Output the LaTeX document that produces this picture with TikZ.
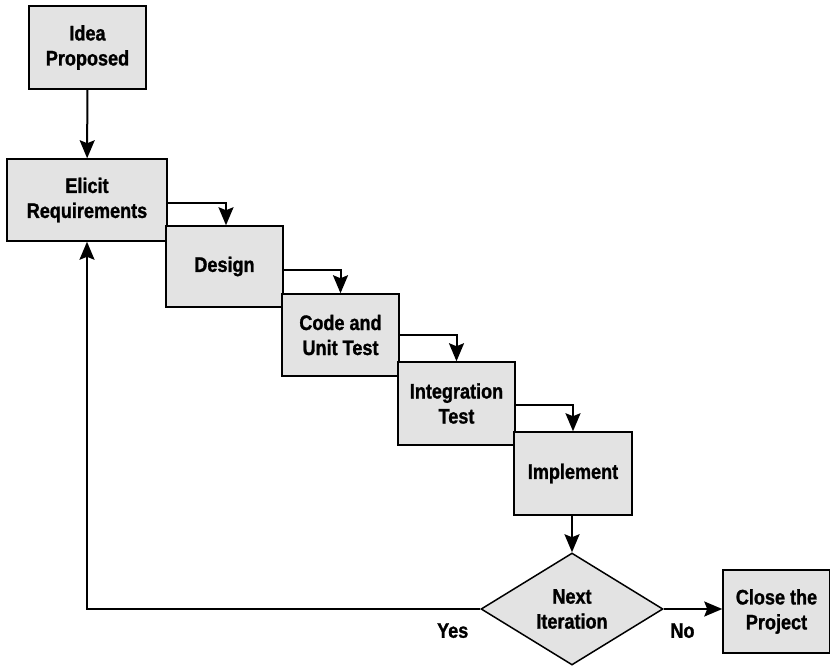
\documentclass[tikz,border=0pt]{standalone}
\usepackage{fontspec}
\setmainfont{Liberation Sans}[FakeStretch=0.86, BoldFeatures={FakeBold=1.2}]
\usepackage{tikz}
\usetikzlibrary{arrows.meta,positioning,shapes.geometric}
\definecolor{boxgray}{RGB}{227,227,227}

\begin{document}
\begin{tikzpicture}[
    x=1pt, y=-1pt,
    box/.style={draw, fill=boxgray, line width=1.5pt, minimum height=82pt, minimum width=117pt, align=center, inner sep=2pt, font=\fontsize{21}{25}\selectfont\bfseries},
    decision/.style={box, diamond, aspect=1.625, minimum width=182pt, minimum height=112pt, inner sep=0pt},
    lbl/.style={font=\fontsize{21}{25}\selectfont\bfseries},
    arr/.style={-{Stealth[length=18pt, width=15pt, inset=3pt]}, line width=2pt},
]
\useasboundingbox (0,0) rectangle (830,666);

% Start
\node[box, minimum height=83pt] (idea) at (87.5,47.5) {Idea\\Proposed};

% Waterfall stages
\node[box, minimum width=160pt] (elicit) at (87,200) {Elicit\\Requirements};
\node[box, minimum height=81pt] (design) at (224.5,266.5) {Design};
\node[box] (code) at (340.5,335) {Code and\\Unit Test};
\node[box, minimum height=83pt] (integ) at (456.5,403.5) {Integration\\Test};
\node[box, minimum width=118pt, minimum height=83pt] (impl) at (573,473.5) {Implement};

% Decision
\node[decision] (next) at (572,609) {Next\\Iteration};

% End
\node[box, minimum width=107pt, minimum height=83pt] (close) at (776.5,611.5) {Close the\\Project};

% Arrows
\draw[arr] (idea) -- (elicit);
\draw[arr] ([yshift=-3pt]elicit.east) -| ([xshift=1.5pt]design.north);
\draw[arr] ([yshift=-3.5pt]design.east) -| (code.north);
\draw[arr] (code.east) -| (integ.north);
\draw[arr] ([yshift=-1.5pt]integ.east) -| (impl.north);
\draw[arr] ([xshift=-1pt]impl.south) -- (next.north);
\draw[arr] (next.east) -- (close.west |- next.east) node[lbl, pos=0.32, below=10pt] {No};

% Iterate again
\draw[arr] (next.west) -| node[lbl, pos=0.035, below=10pt] {Yes} (elicit.south);
\end{tikzpicture}
\end{document}
